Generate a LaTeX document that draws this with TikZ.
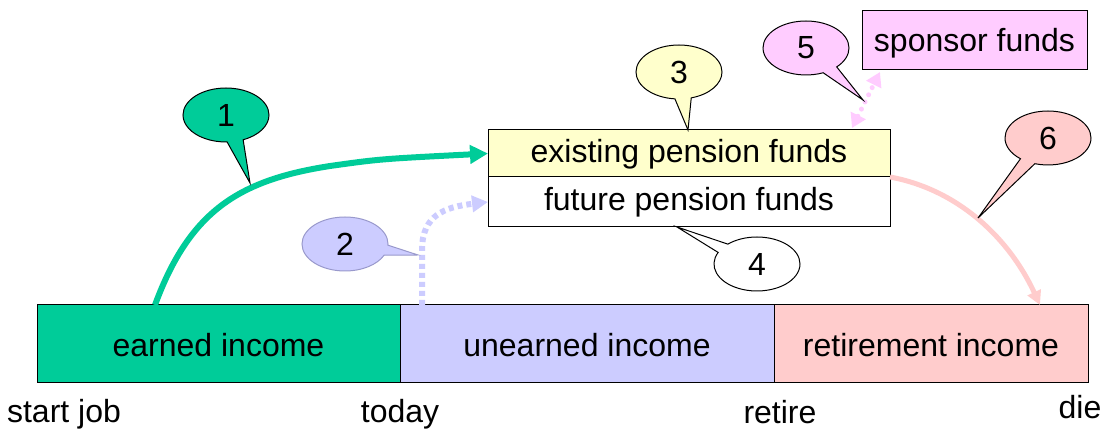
\documentclass[tikz,border=0pt]{standalone}
\usepackage{fontspec}
\setmainfont{Liberation Sans}
\usetikzlibrary{shapes.callouts,arrows.meta,calc}
\definecolor{cgreen}{RGB}{0,204,153}
\definecolor{clav}{RGB}{204,204,255}
\definecolor{clavline}{RGB}{153,153,204}
\definecolor{cyellow}{RGB}{255,255,204}
\definecolor{cpink}{RGB}{255,204,204}
\definecolor{cviolet}{RGB}{255,204,255}
\tikzset{
  bar/.style={draw=black,line width=0.5pt,inner sep=0pt,outer sep=0pt,minimum height=39pt,text height=13pt,text depth=0pt,font=\fontsize{16}{19}\selectfont},
  fundbox/.style={draw=black,line width=0.5pt,inner sep=0pt,outer sep=0pt,minimum width=201pt,text depth=0pt,font=\fontsize{16}{19}\selectfont},
  bubble/.style={ellipse callout,draw=black,line width=0.5pt,inner sep=0pt,minimum width=43pt,minimum height=27pt,callout pointer arc=22,font=\fontsize{16}{19}\selectfont},
  timelabel/.style={inner sep=0pt,anchor=base,font=\fontsize{16}{19}\selectfont},
}
\begin{document}
\begin{tikzpicture}[x=0.5pt,y=-0.5pt]
\useasboundingbox[fill=white] (0,0) rectangle (1105,432);
% bars
\node[bar,fill=cgreen,minimum width=181.5pt] (earned) at (218.5,344) {earned income};
\node[bar,fill=clav,minimum width=187pt] (unearned) at (587,344) {unearned income};
\node[bar,fill=cpink,minimum width=157pt] (retirement) at (931,344) {retirement income};
% time labels
\node[timelabel] (start) at (64,423) {start job};
\node[timelabel] (today) at (400,423) {today};
\node[timelabel] (retire) at (780,424) {retire};
\node[timelabel] (die) at (1080,419) {die};
% fund boxes
\node[fundbox,fill=cyellow,minimum height=23.5pt,text height=9.5pt] (existing) at (689,153.5) {existing pension funds};
\node[fundbox,fill=white,minimum height=25pt,text height=9pt] (future) at (689,202) {future pension funds};
\node[draw=black,line width=0.5pt,fill=cviolet,inner sep=0pt,minimum width=112.5pt,minimum height=29.5pt,text height=11pt,text depth=0pt,font=\fontsize{16}{19}\selectfont] (sponsor) at (974.5,40.5) {sponsor funds};
% coordinates
\coordinate (gs) at ($(earned.north west)+(118,0)$);
\coordinate (ls) at ($(unearned.north west)+(22,0)$);
\coordinate (pe) at ($(retirement.north west)+(266,0)$);
\coordinate (vs) at (852,128);
\coordinate (ve) at (880,72);
% arrows
\draw[cgreen,line width=3pt,-{Triangle[length=9pt,width=9pt]}] (gs) .. controls (190,210) and (240,180) .. (330,166) .. controls (380,159) .. (existing.west);
\draw[clav,line width=3pt,dash pattern=on 2.5pt off 2pt,-{Triangle[length=8pt,width=8pt]}] (ls) -- (422,250) .. controls (422,215) and (445,207) .. (future.west);
\draw[cviolet,line width=2.5pt,dash pattern=on 0pt off 4pt,line cap=round,{Triangle[length=7pt,width=8pt]}-{Triangle[length=7pt,width=8pt]}] (vs) -- (ve);
\draw[cpink,line width=2.5pt,-{Triangle[length=7pt,width=7pt]}] (existing.south east) .. controls (960,190) and (1010,240) .. (pe);
% callout tips
\coordinate (t1) at (250,183);
\coordinate (t2) at (418,255);
\coordinate (t3) at ($(existing.north)+(-1,0)$);
\coordinate (t4) at ($(future.south)+(-12,0)$);
\coordinate (t5) at (863,100);
\coordinate (t6) at (978,218);
% callouts
\node[bubble,fill=cgreen,callout absolute pointer={(t1)}] (c1) at (226,115) {1};
\node[bubble,fill=clav,draw=clavline,callout absolute pointer={(t2)}] (c2) at (345,244) {2};
\node[bubble,fill=cyellow,callout absolute pointer={(t3)}] (c3) at (679,72) {3};
\node[bubble,fill=white,callout absolute pointer={(t4)}] (c4) at (757,264) {4};
\node[bubble,fill=cviolet,callout absolute pointer={(t5)}] (c5) at (806,48) {5};
\node[bubble,fill=cpink,callout absolute pointer={(t6)}] (c6) at (1048,138) {6};
\end{tikzpicture}
\end{document}
